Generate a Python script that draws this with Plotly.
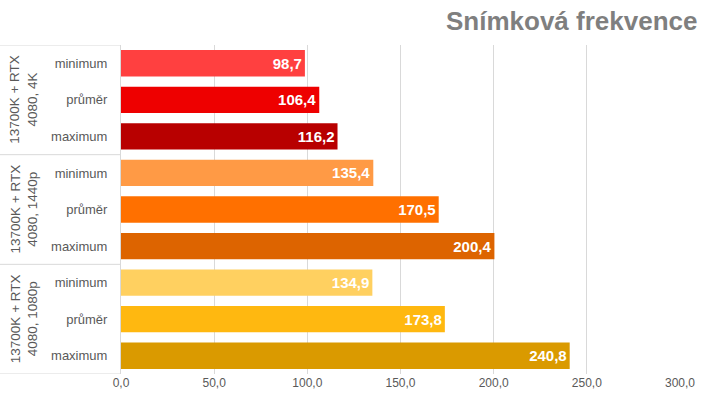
import plotly.graph_objects as go

groups = ["13700K + RTX<br>4080, 4K", "13700K + RTX<br>4080, 1440p", "13700K + RTX<br>4080, 1080p"]
metrics = ["minimum", "průměr", "maximum"]
values = [
    [98.7, 106.4, 116.2],
    [135.4, 170.5, 200.4],
    [134.9, 173.8, 240.8],
]
colors = [
    ["#FF4040", "#EE0000", "#B80000"],
    ["#FF9A45", "#FF7000", "#DD6400"],
    ["#FFD060", "#FFB810", "#DA9A00"],
]
x_ticks = [0, 50, 100, 150, 200, 250, 300]
title = "Snímková frekvence"

ypos, xs, cols, ticktext = [], [], [], []
i = 0
for g in range(len(groups)):
    for m in range(len(metrics)):
        ypos.append(i)
        xs.append(values[g][m])
        cols.append(colors[g][m])
        ticktext.append(metrics[m])
        i += 1

fig = go.Figure(go.Bar(
    x=xs, y=ypos, orientation="h",
    marker=dict(color=cols, line=dict(width=0)),
    text=xs, texttemplate="%{x:.1f}", textposition="inside",
    insidetextanchor="end",
    textfont=dict(family="Liberation Sans", size=15, color="white", weight="bold"),
    hoverinfo="skip",
))

L, R, T, B = 121, 40, 45, 31
pw = 720 - L - R
fig.update_layout(
    width=720, height=405,
    margin=dict(l=L, r=R, t=T, b=B),
    paper_bgcolor="white", plot_bgcolor="white",
    separators=", ",
    bargap=0.28,
    showlegend=False,
    font=dict(family="Liberation Sans", color="#595959"),
    xaxis=dict(range=[0, 300], tickvals=x_ticks, tickformat=".1f",
               showgrid=True, gridcolor="#d9d9d9", gridwidth=1,
               zeroline=False, showline=False, ticks="",
               tickfont=dict(size=12, color="#595959")),
    yaxis=dict(range=[8.5, -0.5], tickvals=ypos, ticktext=ticktext,
               showgrid=False, zeroline=False, showline=True,
               linecolor="#d9d9d9", linewidth=1, ticks="",
               ticklabelstandoff=10,
               tickfont=dict(size=13, color="#595959")),
)

# title
fig.add_annotation(text=title, xref="paper", yref="paper", x=(699 - L) / pw, y=1,
                   yshift=24, xanchor="right", yanchor="middle", showarrow=False,
                   font=dict(family="Liberation Sans", size=26, color="#7f7f7f", weight="bold"))

# group separators and labels
x_left = -L / pw
for b in [-0.5, 2.5, 5.5, 8.5]:
    fig.add_shape(type="line", xref="paper", yref="y", x0=x_left, x1=0, y0=b, y1=b,
                  line=dict(color="#d9d9d9", width=1))
for g, name in enumerate(groups):
    fig.add_annotation(text=name, xref="paper", yref="y", x=(24 - L) / pw, y=g * 3 + 1,
                       textangle=-90, showarrow=False, xanchor="center", yanchor="middle",
                       font=dict(family="Liberation Sans", size=13.5, color="#595959"))

fig.write_html("out.html")
